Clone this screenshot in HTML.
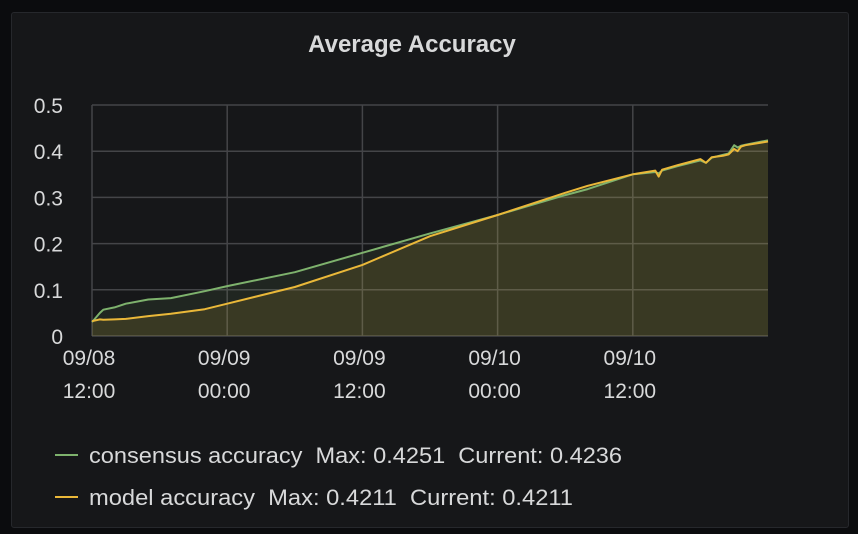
<!DOCTYPE html>
<html><head><meta charset="utf-8">
<style>
body{margin:0;background:#0b0c0e;width:858px;height:534px;overflow:hidden;font-family:"Liberation Sans",sans-serif}
#panel{position:absolute;left:11px;top:12px;width:836px;height:514px;background:#161719;border:1px solid #26282c;border-radius:3px}
svg{position:absolute;left:0;top:0}
</style></head><body>
<div id="panel"></div>
<svg id="c" width="858" height="534"></svg>
<script>
const tHours=[0,0.7,1,2,3,5,7,10,12,18,24,30,36,42,44,48,50,50.3,50.6,52,54,54.5,55,56,56.5,57,57.3,57.6,58,60];
const consensus=[0.03,0.05,0.057,0.062,0.07,0.079,0.082,0.097,0.108,0.138,0.18,0.222,0.262,0.305,0.318,0.35,0.355,0.352,0.358,0.368,0.38,0.375,0.386,0.392,0.395,0.413,0.408,0.412,0.414,0.4236];
const model=[0.032,0.036,0.035,0.036,0.037,0.043,0.048,0.058,0.07,0.106,0.154,0.216,0.262,0.31,0.325,0.35,0.358,0.345,0.36,0.37,0.383,0.375,0.387,0.39,0.393,0.405,0.4,0.41,0.413,0.4211];
const yTicks=[0,0.1,0.2,0.3,0.4,0.5];
const xTickHours=[0,12,24,36,48];
const xTickLabels=[["09/08","12:00"],["09/09","00:00"],["09/09","12:00"],["09/10","00:00"],["09/10","12:00"]];
const X0=92,X1=768,Y0=336,Y1=105,TMAX=60,VMAX=0.5;
const xs=t=>X0+(X1-X0)*t/TMAX, ys=v=>Y0-(Y0-Y1)*v/VMAX;
const svg=document.getElementById('c');const NS='http://www.w3.org/2000/svg';
function mk(tag,attrs,parent){const e=document.createElementNS(NS,tag);for(const k in attrs)e.setAttribute(k,attrs[k]);(parent||svg).appendChild(e);return e;}
let t=mk('text',{x:412,y:52,fill:'#d8d9da','font-size':24,'font-weight':'bold','text-anchor':'middle'});


t.textContent='Average Accuracy';
yTicks.forEach(v=>{
 const l=mk('line',{x1:X0,x2:X1,y1:ys(v),y2:ys(v),stroke:'#444548','stroke-width':1.5});
 
 
 const tx=mk('text',{x:63,y:ys(v)+8,fill:'#d8d9da','font-size':21,'text-anchor':'end'});
 
 
 tx.textContent=String(v);
});
xTickHours.forEach((h,i)=>{
 if(h>0){const l=mk('line',{x1:xs(h),x2:xs(h),y1:Y1,y2:Y0,stroke:'#444548','stroke-width':1.5});
 
 }
 xTickLabels[i].forEach((s,j)=>{const tx=mk('text',{x:xs(h)-3,y:365+j*33,fill:'#d8d9da','font-size':21,'text-anchor':'middle'});
 
 
 tx.textContent=s;});
});
const ax=mk('line',{x1:X0,x2:X0,y1:Y1,y2:Y0,stroke:'#444548','stroke-width':1.5});


function pts(arr){return tHours.map((h,i)=>xs(h).toFixed(1)+','+ys(arr[i]).toFixed(1)).join(' ');}
[[consensus,'rgba(126,178,109,0.1)','consensus'],[model,'rgba(234,184,57,0.13)','model']].forEach(([arr,f,n])=>{
 const a=mk('polygon',{points:xs(0)+','+Y0+' '+pts(arr)+' '+xs(TMAX)+','+Y0,fill:f});
 
 
});
[[consensus,'#7eb26d','consensus'],[model,'#eab839','model']].forEach(([arr,c,n])=>{
 const p=mk('polyline',{points:pts(arr),fill:'none',stroke:c,'stroke-width':2,'stroke-linejoin':'round'});
 
 
});
[['consensus accuracy  Max: 0.4251  Current: 0.4236','#7eb26d',449,533],['model accuracy  Max: 0.4211  Current: 0.4211','#eab839',491,484]].forEach(([s,c,y,w],i)=>{
 const g=mk('g',{});
 
 
 mk('line',{x1:55,x2:78,y1:y+6,y2:y+6,stroke:c,'stroke-width':2},g);
 const tx=mk('text',{x:89,y:y+14,fill:'#d8d9da','font-size':22,textLength:w,lengthAdjust:'spacingAndGlyphs'},g);
 tx.style.whiteSpace='pre';
 tx.textContent=s;
});
</script>
</body></html>
